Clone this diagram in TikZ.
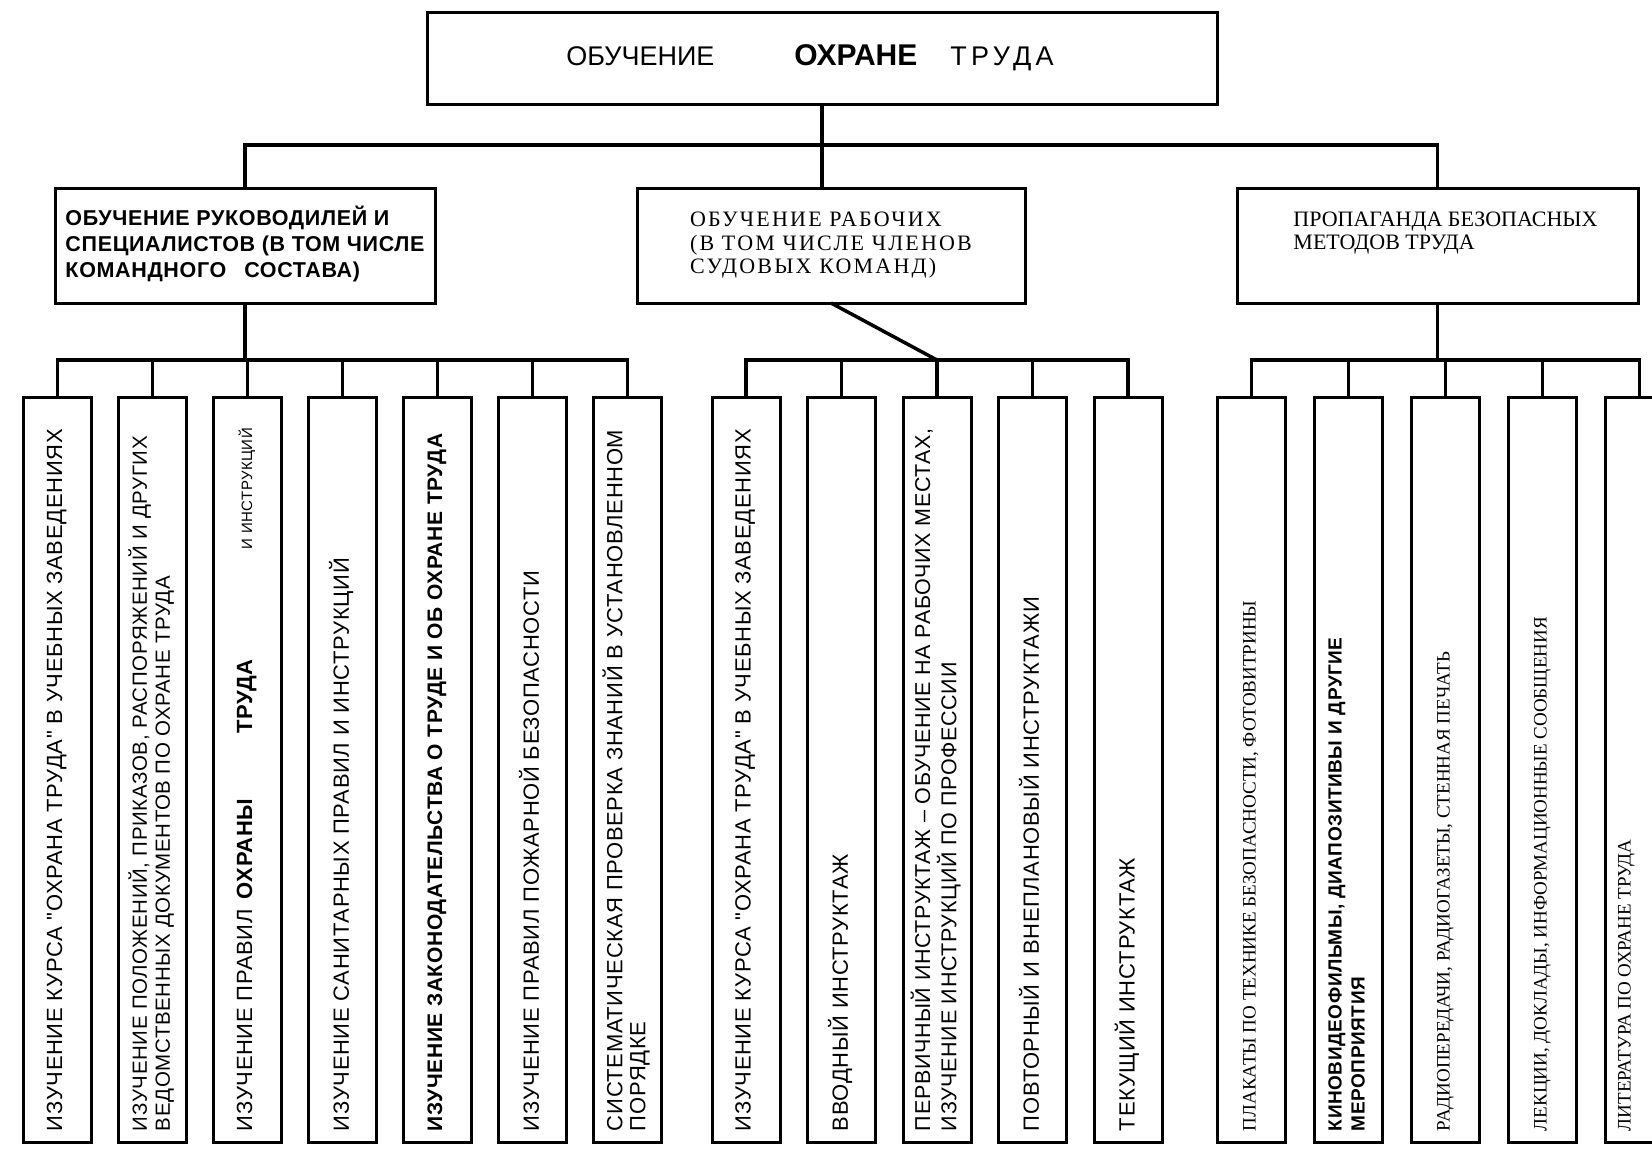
\documentclass[tikz,border=0pt]{standalone}
\usepackage{fontspec}
\setmainfont{Liberation Sans}
\newfontfamily\serifface{Liberation Serif}
\newfontfamily\serifwide{Liberation Serif}[LetterSpace=10]
\newfontfamily\itemface{Liberation Sans}[LetterSpace=3]
\usepackage{graphicx}
\usetikzlibrary{positioning}
\tikzset{top node/.style={draw,line width=3pt,minimum width=790pt,minimum height=92pt,inner sep=0pt,outer sep=0pt},
	group node/.style={draw,line width=3pt,minimum height=115pt,inner sep=0pt,outer sep=0pt},
	item node/.style={draw,line width=3pt,minimum width=68pt,minimum height=745pt,inner sep=0pt,outer sep=0pt},
	link/.style={line width=3.5pt},
}
\newcommand{\vtext}[2][]{\rotatebox{90}{\makebox[722pt][l]{\itemface\fontsize{22}{23}\selectfont#1\begin{tabular}{@{}l@{}}#2\end{tabular}}}}

\begin{document}
\begin{tikzpicture}[x=1pt,y=-1pt,node distance=27pt]
	\clip (0,0) rectangle (1652,1149);
	\node[top node] (top) at (822,58) {\fontsize{27}{30}\selectfont ОБУЧЕНИЕ\hspace{80pt}{\fontsize{30}{30}\selectfont\bfseries ОХРАНЕ}\hspace{33pt}{\addfontfeature{LetterSpace=16}ТРУДА}\hspace*{24pt}\null};
	\node[group node,minimum width=380pt] (lead) at (245,245.5) {\itemface\fontsize{21.5}{26}\selectfont\bfseries\begin{tabular}{@{}l@{}}ОБУЧЕНИЕ РУКОВОДИЛЕЙ И\\СПЕЦИАЛИСТОВ (В ТОМ ЧИСЛЕ\\КОМАНДНОГО\hspace{18pt}СОСТАВА)\end{tabular}};
	\node[group node,minimum width=388pt] (work)[right = 202pt of lead] {\serifwide\fontsize{22}{23.5}\selectfont\begin{tabular}{@{}l@{}}ОБУЧЕНИЕ РАБОЧИХ\\(В ТОМ ЧИСЛЕ ЧЛЕНОВ\\СУДОВЫХ КОМАНД)\end{tabular}};
	\node[group node,minimum width=401pt] (promo)[right = 212pt of work] {\serifface\fontsize{22}{22.5}\selectfont\begin{tabular}{@{\hspace{16pt}}l@{}}ПРОПАГАНДА БЕЗОПАСНЫХ\\МЕТОДОВ ТРУДА\\[24pt]\end{tabular}};
	
	\node[item node] (b1) at (57.5,770) {\vtext{ИЗУЧЕНИЕ КУРСА "ОХРАНА ТРУДА" В УЧЕБНЫХ ЗАВЕДЕНИЯХ}};
	\node[item node] (b2)[right = of b1] {\vtext[\fontsize{20.5}{23}\selectfont]{ИЗУЧЕНИЕ ПОЛОЖЕНИЙ, ПРИКАЗОВ, РАСПОРЯЖЕНИЙ И ДРУГИХ\\ВЕДОМСТВЕННЫХ ДОКУМЕНТОВ ПО ОХРАНЕ ТРУДА}};
	\node[item node] (b3)[right = of b2] {\vtext{ИЗУЧЕНИЕ ПРАВИЛ\hspace{10pt}{\bfseries ОХРАНЫ}\hspace{65pt}{\bfseries ТРУДА}\hspace{110pt}{\fontsize{15}{23}\selectfont И ИНСТРУКЦИЙ}}};
	\node[item node] (b4)[right = of b3] {\vtext{ИЗУЧЕНИЕ САНИТАРНЫХ ПРАВИЛ И ИНСТРУКЦИЙ}};
	\node[item node] (b5)[right = of b4] {\vtext[\fontsize{21}{23}\selectfont\bfseries]{ИЗУЧЕНИЕ ЗАКОНОДАТЕЛЬСТВА О ТРУДЕ И ОБ ОХРАНЕ ТРУДА}};
	\node[item node] (b6)[right = of b5] {\vtext{ИЗУЧЕНИЕ ПРАВИЛ ПОЖАРНОЙ БЕЗОПАСНОСТИ}};
	\node[item node] (b7)[right = of b6] {\vtext{СИСТЕМАТИЧЕСКАЯ ПРОВЕРКА ЗНАНИЙ В УСТАНОВЛЕННОМ\\ПОРЯДКЕ}};
	
	\node[item node] (b8) at (746,770) {\vtext{ИЗУЧЕНИЕ КУРСА "ОХРАНА ТРУДА" В УЧЕБНЫХ ЗАВЕДЕНИЯХ}};
	\node[item node] (b9)[right = 27.5pt of b8] {\vtext{ВВОДНЫЙ ИНСТРУКТАЖ}};
	\node[item node] (b10)[right = 27.5pt of b9] {\vtext[\fontsize{21.5}{23}\selectfont]{ПЕРВИЧНЫЙ ИНСТРУКТАЖ – ОБУЧЕНИЕ НА РАБОЧИХ МЕСТАХ,\\ИЗУЧЕНИЕ ИНСТРУКЦИЙ ПО ПРОФЕССИИ}};
	\node[item node] (b11)[right = 27.5pt of b10] {\vtext{ПОВТОРНЫЙ И ВНЕПЛАНОВЫЙ ИНСТРУКТАЖИ}};
	\node[item node] (b12)[right = 27.5pt of b11] {\vtext{ТЕКУЩИЙ ИНСТРУКТАЖ}};
	
	\node[item node] (b13) at (1251.5,770) {\vtext[\serifface\fontsize{19}{21}\selectfont]{ПЛАКАТЫ ПО ТЕХНИКЕ БЕЗОПАСНОСТИ, ФОТОВИТРИНЫ}};
	\node[item node] (b14)[right = 29pt of b13] {\vtext[\fontsize{19}{23}\selectfont\bfseries]{КИНОВИДЕОФИЛЬМЫ, ДИАПОЗИТИВЫ И ДРУГИЕ\\МЕРОПРИЯТИЯ}};
	\node[item node] (b15)[right = 29pt of b14] {\vtext[\serifface\fontsize{19}{21}\selectfont]{РАДИОПЕРЕДАЧИ, РАДИОГАЗЕТЫ, СТЕННАЯ ПЕЧАТЬ}};
	\node[item node] (b16)[right = 29pt of b15] {\vtext[\serifface\fontsize{19}{21}\selectfont]{ЛЕКЦИИ, ДОКЛАДЫ, ИНФОРМАЦИОННЫЕ СООБЩЕНИЯ}};
	\node[item node] (b17)[right = 29pt of b16] {\vtext[\serifface\fontsize{19}{21}\selectfont]{ЛИТЕРАТУРА ПО ОХРАНЕ ТРУДА\\[26pt]}};
	
	\coordinate (bar1) at (0,145);
	\coordinate (bar2) at (0,360);
	\draw[link] (top.south) -- (top.south |- bar1);
	\draw[link] (lead.north) |- (top.south |- bar1) -| (promo.north);
	\draw[link] (top.south |- bar1) -- (top.south |- work.north);
	
	\path[draw,link]
	(lead.south) edge (lead.south |- bar2)
	(work.south) edge (b10.north |- bar2)
	(promo.south) edge (promo.south |- bar2);
	\draw[link] (b1.north) |- (b7.north |- bar2) -- (b7.north);
	\draw[link] (b8.north) |- (b12.north |- bar2) -- (b12.north);
	\draw[link] (b13.north) |- (b17.north |- bar2) -- (b17.north);
	\foreach \i in {2,...,6,9,10,11,14,15,16}
	\draw[link] (b\i.north) -- (b\i.north |- bar2);
\end{tikzpicture}
\end{document}
